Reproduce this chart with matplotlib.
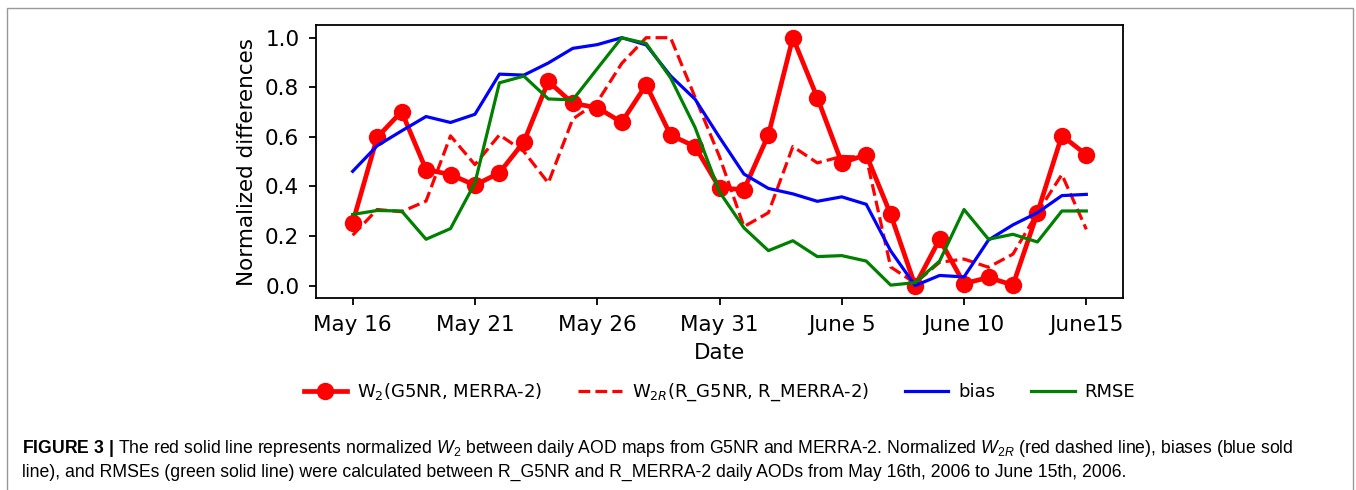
import numpy as np
import pandas as pd
import matplotlib
matplotlib.use("Agg")
import matplotlib.pyplot as plt
from matplotlib.patches import Rectangle

# daily values, May 16 to June 15 2006
dates = pd.date_range("2006-05-16", "2006-06-15", freq="D")

w2 = [0.254, 0.598, 0.702, 0.468, 0.448, 0.405, 0.455, 0.580, 0.824, 0.735,
      0.718, 0.659, 0.810, 0.607, 0.561, 0.394, 0.387, 0.608, 1.000, 0.758,
      0.495, 0.528, 0.287, 0.000, 0.187, 0.008, 0.033, 0.002, 0.293, 0.605,
      0.528]
w2r = [0.203, 0.307, 0.298, 0.341, 0.604, 0.488, 0.608, 0.541, 0.414, 0.672,
       0.740, 0.896, 1.000, 1.000, 0.760, 0.520, 0.238, 0.294, 0.561, 0.495,
       0.521, 0.518, 0.075, 0.010, 0.094, 0.107, 0.074, 0.127, 0.294, 0.448,
       0.227]
bias = [0.461, 0.564, 0.624, 0.682, 0.658, 0.691, 0.853, 0.849, 0.898, 0.957,
        0.972, 1.000, 0.971, 0.846, 0.752, 0.598, 0.450, 0.392, 0.370, 0.340,
        0.358, 0.328, 0.140, 0.000, 0.041, 0.035, 0.184, 0.245, 0.294, 0.363,
        0.368]
rmse = [0.287, 0.303, 0.301, 0.187, 0.230, 0.414, 0.818, 0.845, 0.753, 0.749,
        0.875, 1.000, 0.977, 0.838, 0.638, 0.378, 0.233, 0.141, 0.181, 0.117,
        0.121, 0.099, 0.002, 0.012, 0.099, 0.307, 0.187, 0.207, 0.176, 0.301,
        0.301]

tick_labels = ["May 16", "May 21", "May 26", "May 31", "June 5", "June 10", "June15"]

caption_1 = (r"$\mathbf{FIGURE\ 3\ |}$ The red solid line represents normalized $W_2$ between daily AOD maps "
             r"from G5NR and MERRA-2. Normalized $W_{2R}$ (red dashed line), biases (blue sold")
caption_2 = ("line), and RMSEs (green solid line) were calculated between R_G5NR and R_MERRA-2 "
             "daily AODs from May 16th, 2006 to June 15th, 2006.")

plt.rcParams["mathtext.rm"] = "Liberation Sans"
plt.rcParams["mathtext.it"] = "Liberation Sans:italic"
plt.rcParams["mathtext.bf"] = "Liberation Sans:bold"

W, H = 1356, 490
fig = plt.figure(figsize=(W / 100, H / 100), dpi=100)
ax = fig.add_axes([316 / W, 1 - 298 / H, (1123 - 316) / W, (298 - 25.3) / H])

ax.plot(dates, w2, color="red", lw=3.4, marker="o", ms=11.5, label=r"W$_2$(G5NR, MERRA-2)")
ax.plot(dates, w2r, color="red", lw=2.3, ls="--", label=r"W$_{2R}$(R_G5NR, R_MERRA-2)")
ax.plot(dates, bias, color="blue", lw=2.3, label="bias")
ax.plot(dates, rmse, color="green", lw=2.3, label="RMSE")

ax.set_xticks(dates[::5])
ax.set_xticklabels(tick_labels)
ax.set_yticks(np.arange(0, 1.01, 0.2))
ax.tick_params(labelsize=15.5, width=1.3, length=5, pad=7)
for s in ax.spines.values():
    s.set_linewidth(1.3)
ax.set_xlabel("Date", fontsize=15.5, labelpad=6)
ax.set_ylabel("Normalized differences", fontsize=15.5, labelpad=6)

fig.legend(loc="center", bbox_to_anchor=(719.5 / W, 1 - 392 / H), ncol=4, frameon=False,
           fontsize=13, handlelength=2.4, handletextpad=0.55, columnspacing=2.0)

fig.patches.append(Rectangle((7 / W, -0.1), (1353 - 7) / W, (490 - 8) / H + 0.1,
                             transform=fig.transFigure, fill=False, edgecolor="#999999", lw=1.0))
fig.text(22 / W, 1 - 448 / H, caption_1, fontsize=12.7, family="Liberation Sans",
         math_fontfamily="custom", va="center")
fig.text(22 / W, 1 - 472 / H, caption_2, fontsize=12.7, family="Liberation Sans",
         math_fontfamily="custom", va="center")

fig.savefig("out.png", dpi=100)
